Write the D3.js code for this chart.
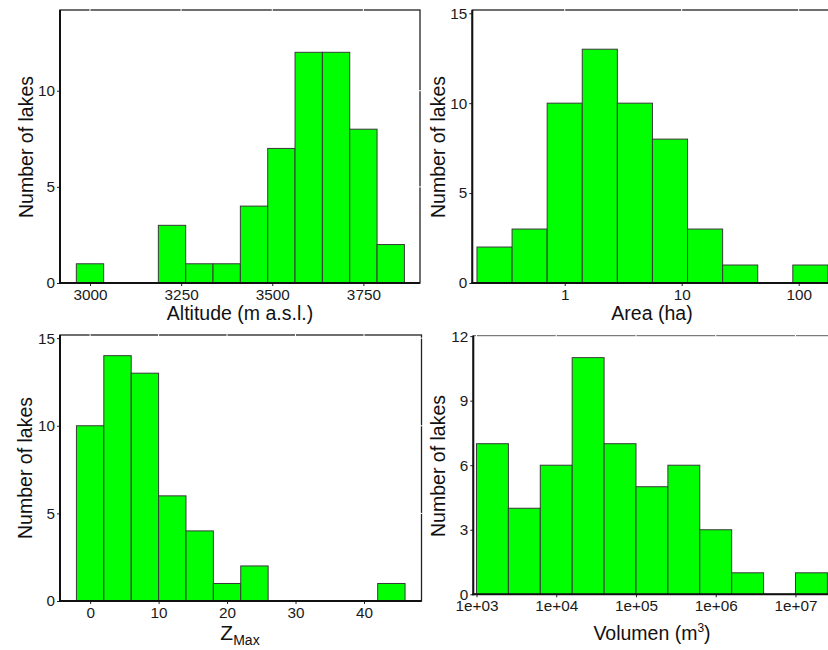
<!DOCTYPE html>
<html>
<head>
<meta charset="utf-8">
<script src="https://cdn.jsdelivr.net/npm/d3@7"></script>
<style>
  body { margin: 0; background: #fff; }
  svg { display: block; font-family: "Liberation Sans", Arial, sans-serif; }
  .bar { fill: #00ff00; stroke: #3a3a3a; stroke-width: 1; }
  .tick-label { font-size: 15.3px; fill: #1a1a1a; }
  .title { font-size: 19.5px; fill: #111; }
</style>
</head>
<body>
<div id="chart"></div>
<script>
// --- Data ---
// Altitude: bin centres (m a.s.l.), binwidth 75
const altCenters = [3000, 3075, 3150, 3225, 3300, 3375, 3450, 3525, 3600, 3675, 3750, 3825];
const altCounts  = [1, 0, 0, 3, 1, 1, 4, 7, 12, 12, 8, 2];
const altBinWidth = 75;
const altTicks = [3000, 3250, 3500, 3750];

// Area: bin centres on log10 scale (ha), binwidth 0.3 decades
const areaLogCenters = [-0.6, -0.3, 0, 0.3, 0.6, 0.9, 1.2, 1.5, 1.8, 2.1];
const areaCounts     = [2, 3, 10, 13, 10, 8, 3, 1, 0, 1];
const areaLogBinWidth = 0.3;
const areaTicks = [1, 10, 100];

// Zmax: bin centres (m), binwidth 4
const zCenters = [0, 4, 8, 12, 16, 20, 24, 28, 32, 36, 40, 44];
const zCounts  = [10, 14, 13, 6, 4, 1, 2, 0, 0, 0, 0, 1];
const zBinWidth = 4;
const zTicks = [0, 10, 20, 30, 40];

// Volume: bin centres on log10 scale (m3), binwidth 0.4 decades
const volLogCenters = [3.2, 3.6, 4.0, 4.4, 4.8, 5.2, 5.6, 6.0, 6.4, 6.8, 7.2];
const volCounts     = [7, 4, 6, 11, 7, 5, 6, 3, 1, 0, 1];
const volLogBinWidth = 0.4;
const volTicks = [1e3, 1e4, 1e5, 1e6, 1e7];
const volTickLabels = ["1e+03", "1e+04", "1e+05", "1e+06", "1e+07"];

const width = 828;
const height = 650;

const svg = d3.select("#chart")
    .append("svg")
    .attr("width", width)
    .attr("height", height);

// Build bins {x0, x1, n} in data units
function linearBins(centers, counts, w) {
    return centers.map((c, i) => ({ x0: c - w / 2, x1: c + w / 2, n: counts[i] }));
}
function logBins(logCenters, counts, w) {
    return logCenters.map((c, i) => ({
        x0: Math.pow(10, c - w / 2),
        x1: Math.pow(10, c + w / 2),
        n: counts[i]
    }));
}

function drawPanel(p) {
    const g = svg.append("g");

    const x = (p.log ? d3.scaleLog() : d3.scaleLinear())
        .domain(p.xDomain)
        .range([p.left, p.right]);
    const y = d3.scaleLinear()
        .domain(p.yDomain)
        .range([p.bottom, p.top]);

    // panel border (top / right)
    g.append("rect")
        .attr("x", p.left)
        .attr("y", p.top)
        .attr("width", p.right - p.left)
        .attr("height", p.bottom - p.top)
        .attr("fill", "white")
        .attr("stroke", "#222")
        .attr("stroke-width", 1.3);

    // white gridlines (only visible where they cut the border)
    g.append("g").selectAll("line")
        .data(p.xTicks)
        .join("line")
        .attr("x1", d => x(d)).attr("x2", d => x(d))
        .attr("y1", p.top - 1).attr("y2", p.bottom)
        .attr("stroke", "white").attr("stroke-width", 1);
    g.append("g").selectAll("line")
        .data(p.yTicks.slice(1))
        .join("line")
        .attr("x1", p.left).attr("x2", p.right + 1)
        .attr("y1", d => y(d)).attr("y2", d => y(d))
        .attr("stroke", "white").attr("stroke-width", 1);

    // bars
    g.append("g").selectAll("rect")
        .data(p.bins.filter(d => d.n > 0))
        .join("rect")
        .attr("class", "bar")
        .attr("x", d => x(d.x0))
        .attr("y", d => y(d.n))
        .attr("width", d => x(d.x1) - x(d.x0))
        .attr("height", d => y(0) - y(d.n));

    // axes
    const xAxis = d3.axisBottom(x)
        .tickValues(p.xTicks)
        .tickSize(3)
        .tickPadding(3)
        .tickFormat((d, i) => p.xLabels ? p.xLabels[i] : d3.format("d")(d));
    const gx = g.append("g")
        .attr("transform", `translate(0,${p.bottom})`)
        .call(xAxis);
    gx.select(".domain").remove();
    gx.append("line")
        .attr("x1", p.left - 1).attr("x2", p.right)
        .attr("stroke", "#111").attr("stroke-width", 2);
    gx.selectAll(".tick line").attr("stroke", "#222");
    gx.selectAll(".tick text").attr("class", "tick-label").attr("fill", null);

    const yAxis = d3.axisLeft(y)
        .tickValues(p.yTicks)
        .tickSize(3)
        .tickPadding(2);
    const gy = g.append("g")
        .attr("transform", `translate(${p.left},0)`)
        .call(yAxis);
    gy.select(".domain").remove();
    gy.append("line")
        .attr("y1", p.top).attr("y2", p.bottom + 1)
        .attr("stroke", "#111").attr("stroke-width", 2);
    gy.selectAll(".tick line").attr("stroke", "#222");
    gy.selectAll(".tick text").attr("class", "tick-label").attr("fill", null);

    // axis titles
    const xt = g.append("text")
        .attr("class", "title")
        .attr("x", p.xTitleX)
        .attr("y", p.xTitleY)
        .attr("text-anchor", "middle");
    p.xTitle(xt);

    g.append("text")
        .attr("class", "title")
        .attr("transform", `translate(${p.yTitleX},${p.yTitleY}) rotate(-90)`)
        .attr("text-anchor", "middle")
        .text("Number of lakes");
}

// --- Altitude ---
drawPanel({
    left: 60, right: 420, top: 10, bottom: 283,
    xDomain: [2917.7, 3905.3], yDomain: [0, 14.2],
    bins: linearBins(altCenters, altCounts, altBinWidth),
    xTicks: altTicks, yTicks: [0, 5, 10],
    xTitleX: 240, xTitleY: 320,
    xTitle: t => t.text("Altitude (m a.s.l.)"),
    yTitleX: 33, yTitleY: 147
});

// --- Area ---
drawPanel({
    log: true,
    left: 472.3, right: 834, top: 10, bottom: 283,
    xDomain: [Math.pow(10, -0.79), Math.pow(10, 2.302)], yDomain: [0, 15.18],
    bins: logBins(areaLogCenters, areaCounts, areaLogBinWidth),
    xTicks: areaTicks, yTicks: [0, 5, 10, 15],
    xLabels: ["1", "10", "100"],
    xTitleX: 652, xTitleY: 320,
    xTitle: t => t.text("Area (ha)"),
    yTitleX: 445, yTitleY: 147
});

// --- Zmax ---
drawPanel({
    left: 60, right: 421.5, top: 335, bottom: 601,
    xDomain: [-4.4, 48.4], yDomain: [0, 15.18],
    bins: linearBins(zCenters, zCounts, zBinWidth),
    xTicks: zTicks, yTicks: [0, 5, 10, 15],
    xTitleX: 240, xTitleY: 640,
    xTitle: t => {
        t.append("tspan").style("font-size", "21px").text("Z");
        t.append("tspan").attr("dy", 5).style("font-size", "14px").text("Max");
    },
    yTitleX: 32, yTitleY: 468
});

// --- Volume ---
drawPanel({
    log: true,
    left: 473.3, right: 832, top: 335.7, bottom: 594.3,
    xDomain: [Math.pow(10, 2.96), Math.pow(10, 7.458)], yDomain: [0, 12.02],
    bins: logBins(volLogCenters, volCounts, volLogBinWidth),
    xTicks: volTicks, yTicks: [0, 3, 6, 9, 12],
    xLabels: volTickLabels,
    xTitleX: 652, xTitleY: 640,
    xTitle: t => {
        t.append("tspan").text("Volumen (m");
        t.append("tspan").attr("dy", -8).style("font-size", "12px").text("3");
        t.append("tspan").attr("dy", 8).text(")");
    },
    yTitleX: 445, yTitleY: 466
});
</script>
</body>
</html>
